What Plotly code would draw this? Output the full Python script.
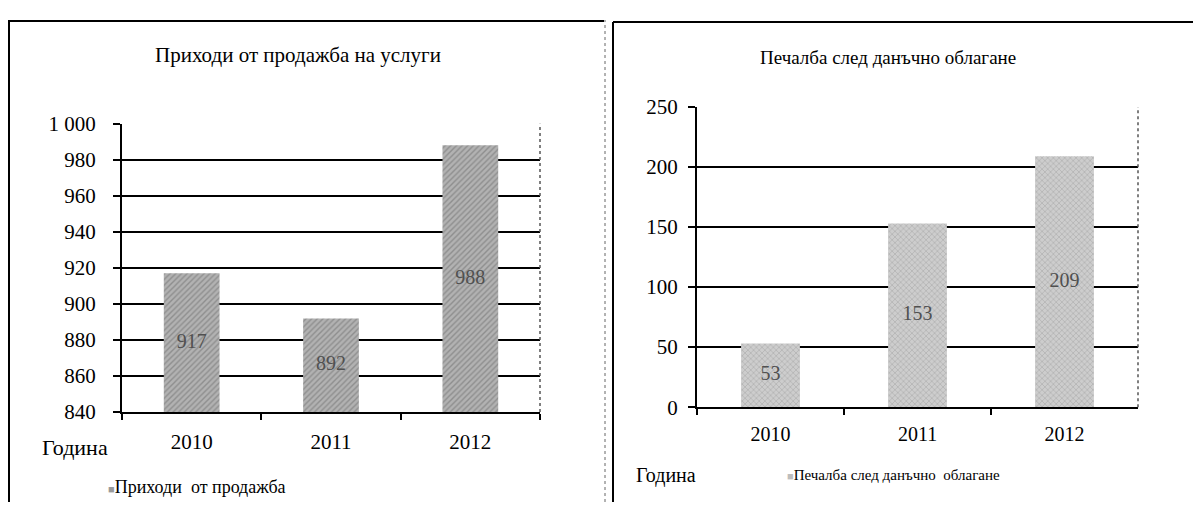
import plotly.graph_objects as go

W, H = 1201, 506

years = ["2010", "2011", "2012"]
revenue = [917, 892, 988]
profit = [53, 153, 209]

left_title = "Приходи от продажба на услуги"
right_title = "Печалба след данъчно облагане"
left_series = "Приходи  от продажба"
right_series = "Печалба след данъчно  облагане"
x_label = "Година"

left_range = [840, 1000]
right_range = [0, 250]
left_ticks = [840, 860, 880, 900, 920, 940, 960, 980, 1000]
left_ticktext = ["840", "860", "880", "900", "920", "940", "960", "980", "1 000"]
right_ticks = [0, 50, 100, 150, 200, 250]
right_ticktext = ["0", "50", "100", "150", "200", "250"]

FONT = "Liberation Serif"

# screen-pixel -> paper helpers (page is drawn with an 8px/17px offset)
OX, OY, PH = 8, 17, 488


def sx(x):
    return min(max((x - OX) / W, 0), 1)


def sy(y):
    return min(max(1 - (y - OY) / PH, 0), 1)


fig = go.Figure()

fig.add_trace(go.Bar(
    x=years, y=revenue, xaxis="x", yaxis="y", name=left_series,
    marker=dict(color="#a6a6a6", line=dict(width=0),
                pattern=dict(shape="/", fgcolor="#6a6a6a", bgcolor="#b2b2b2",
                             size=4, solidity=0.35)),
    showlegend=False, hoverinfo="x+y",
))
fig.add_trace(go.Scatter(
    x=years, y=[(left_range[0] + v) / 2 for v in revenue], xaxis="x", yaxis="y",
    mode="text", text=[str(v) for v in revenue],
    textfont=dict(family=FONT, size=20, color="#505050"),
    showlegend=False, hoverinfo="skip",
))

fig.add_trace(go.Bar(
    x=years, y=profit, xaxis="x2", yaxis="y2", name=right_series,
    marker=dict(color="#c2c2c2", line=dict(width=0),
                pattern=dict(shape="x", fgcolor="#8c8c8c", bgcolor="#cdcdcd",
                             size=4, solidity=0.3)),
    showlegend=False, hoverinfo="x+y",
))
fig.add_trace(go.Scatter(
    x=years, y=[v / 2 for v in profit], xaxis="x2", yaxis="y2",
    mode="text", text=[str(v) for v in profit],
    textfont=dict(family=FONT, size=20, color="#505050"),
    showlegend=False, hoverinfo="skip",
))

common_x = dict(
    type="category", showgrid=False, showline=True, linecolor="black", linewidth=2,
    ticks="outside", tickson="boundaries", ticklen=6, tickcolor="black", tickwidth=1.5,
    zeroline=False, fixedrange=True,
)
common_y = dict(
    showgrid=True, gridcolor="black", gridwidth=2, showline=True, linecolor="black",
    linewidth=2, ticks="outside", ticklen=7, tickcolor="black", tickwidth=1.5,
    zeroline=False, fixedrange=True,
)

fig.update_layout(
    width=W, height=H,
    margin=dict(l=0, r=0, t=0, b=0),
    paper_bgcolor="white", plot_bgcolor="white",
    bargap=0.6,
    font=dict(family=FONT, color="black"),
    xaxis=dict(common_x, domain=[sx(122), sx(540)], anchor="y",
               tickfont=dict(family=FONT, size=21, color="black"), ticklabelstandoff=10),
    yaxis=dict(common_y, domain=[sy(414), sy(122)], range=left_range, anchor="x",
               tickvals=left_ticks, ticktext=left_ticktext, ticklabelstandoff=13,
               tickfont=dict(family=FONT, size=21, color="black")),
    xaxis2=dict(common_x, domain=[sx(697), sx(1138)], anchor="y2",
                tickfont=dict(family=FONT, size=20, color="black"), ticklabelstandoff=8),
    yaxis2=dict(common_y, domain=[sy(409), sy(105)], range=right_range, anchor="x2",
                tickvals=right_ticks, ticktext=right_ticktext, ticklabelstandoff=6,
                tickfont=dict(family=FONT, size=21, color="black")),
)

# plot-area right edges (dotted)
fig.add_shape(type="line", xref="paper", yref="paper", x0=sx(540), x1=sx(540),
              y0=sy(414), y1=sy(122), line=dict(color="#555555", width=1.5, dash="dot"))
fig.add_shape(type="line", xref="paper", yref="paper", x0=sx(1138), x1=sx(1138),
              y0=sy(409), y1=sy(105), line=dict(color="#555555", width=1.5, dash="dot"))

# panel frames
fig.add_shape(type="line", xref="paper", yref="paper", x0=sx(9), x1=sx(9),
              y0=0, y1=1, line=dict(color="black", width=2))
fig.add_shape(type="line", xref="paper", yref="paper", x0=sx(9), x1=sx(604),
              y0=sy(18), y1=sy(18), line=dict(color="black", width=2))
fig.add_shape(type="line", xref="paper", yref="paper", x0=sx(605), x1=sx(605),
              y0=0, y1=1, line=dict(color="#666666", width=1, dash="dot"))
fig.add_shape(type="line", xref="paper", yref="paper", x0=sx(613), x1=sx(613),
              y0=0, y1=sy(19), line=dict(color="black", width=2))
fig.add_shape(type="line", xref="paper", yref="paper", x0=sx(613), x1=1,
              y0=sy(19), y1=sy(19), line=dict(color="black", width=2))


def label(text, x, y, size, xanchor="center"):
    return dict(text=text, x=sx(x), y=sy(y), xref="paper", yref="paper",
                xanchor=xanchor, yanchor="middle", showarrow=False,
                font=dict(family=FONT, size=size, color="black"))


ann = [
    label(left_title, 298, 52, 21),
    label(right_title, 888, 55, 19),
    label(x_label, 40, 450, 22, "left"),
    label(x_label, 634, 478, 20, "left"),
    label("<span style='color:#9a9a9a;font-size:11px'>■</span>" + left_series, 106, 490, 18, "left"),
    label("<span style='color:#bdbdbd;font-size:11px'>■</span>" + right_series, 785, 478, 15, "left"),
]
fig.update_layout(annotations=ann)

fig.write_html("out.html")
